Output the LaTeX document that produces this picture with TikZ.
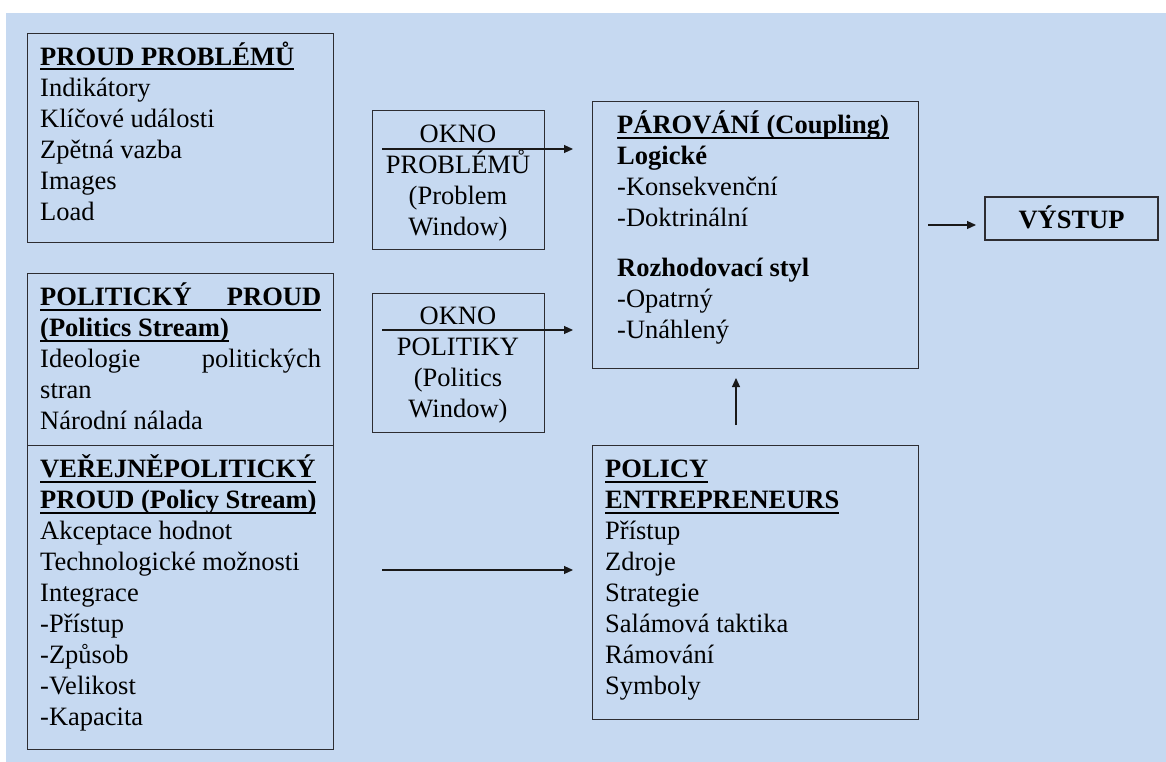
\documentclass[tikz,border=0pt]{standalone}
\usepackage{fontspec}
\setmainfont{Liberation Serif}
\usetikzlibrary{arrows.meta}
\definecolor{bgblue}{RGB}{198,217,241}
\definecolor{edgecol}{RGB}{45,45,50}
\newsavebox\ulbox
\newcommand\myul[1]{\sbox\ulbox{#1}\rlap{\rule[-5.3pt]{\wd\ulbox}{2pt}}\usebox\ulbox}
\newcommand\fl{\rule{0pt}{25pt}}
\begin{document}
\begin{tikzpicture}[x=1pt,y=-1pt,
  box/.style={draw=edgecol,line width=1.3pt,rectangle,inner sep=0pt,anchor=north west},
  txt/.style={inner sep=0pt,anchor=north west,align=left,font=\fontsize{26.5}{31}\selectfont},
  ctxt/.style={inner sep=0pt,anchor=north,align=center,font=\fontsize{26.5}{31}\selectfont},
  arr/.style={draw=black!90,line width=1.1pt,-{Triangle[length=9pt,width=8pt]}}]
\useasboundingbox (0,0) rectangle (1166,762);
\fill[bgblue] (6,13) rectangle (1166,762);

% boxes
\node[box,minimum width=306pt,minimum height=209pt] (b1) at (27,33) {};
\node[box,minimum width=306pt,minimum height=172pt] (pol) at (27,273) {};
\node[box,minimum width=306pt,minimum height=304pt] (pst) at (27,445) {};
\node[box,minimum width=172pt,minimum height=139pt] (ok1) at (372,110) {};
\node[box,minimum width=172pt,minimum height=139pt] (ok2) at (372,293) {};
\node[box,minimum width=326pt,minimum height=267pt] (par) at (592,101) {};
\node[box,minimum width=326pt,minimum height=274pt] (ent) at (592,445) {};
\node[box,anchor=center,minimum width=173pt,minimum height=43pt,text height=19pt,text depth=0pt,
      font=\fontsize{26.5}{31}\selectfont\bfseries] (out) at (1071.5,218.5) {VÝSTUP};

% texts
\node[txt] (t1) at (40,40) {\fl\myul{\textbf{PROUD PROBLÉMŮ}}\\Indikátory\\Klíčové události\\Zpětná vazba\\Images\\Load};
\node[txt] (t2) at (40,280) {\fl\myul{\textbf{\hbox to 281pt{POLITICKÝ\hfill PROUD}}}\\
  \myul{\textbf{(Politics Stream)}}\\
  \hbox to 281pt{Ideologie\hfill politických}\\stran\\Národní nálada};
\node[txt] (t3) at (40,452) {\fl\myul{\textbf{VEŘEJNĚPOLITICKÝ}}\\\myul{\textbf{PROUD (Policy Stream)}}\\
  Akceptace hodnot\\Technologické možnosti\\Integrace\\-Přístup\\-Způsob\\-Velikost\\-Kapacita};
\node[ctxt] (t4) at (458,117) {\fl OKNO\\PROBLÉMŮ\\(Problem\\Window)};
\node[ctxt] (t5) at (458,299) {\fl OKNO\\POLITIKY\\(Politics\\Window)};
\node[txt] (t6) at (617,108) {\fl\myul{\textbf{PÁROVÁNÍ (Coupling)}}\\\textbf{Logické}\\-Konsekvenční\\-Doktrinální\\[19pt]
  \textbf{Rozhodovací styl}\\-Opatrný\\-Unáhlený};
\node[txt] (t7) at (605,452) {\fl\myul{\textbf{POLICY}}\\\myul{\textbf{ENTREPRENEURS}}\\Přístup\\Zdroje\\Strategie\\Salámová taktika\\Rámování\\Symboly};

% connectors
\coordinate (a1s) at (382,149); \coordinate (a1e) at (573,149);
\coordinate (a2s) at (382,330); \coordinate (a2e) at (573,330);
\coordinate (a3s) at (382,570); \coordinate (a3e) at (573,570);
\coordinate (a4s) at (736,425); \coordinate (a4e) at (736,378);
\coordinate (a5s) at (928,225); \coordinate (a5e) at (976,225);
\draw[arr] (a1s) -- (a1e);
\draw[arr] (a2s) -- (a2e);
\draw[arr] (a3s) -- (a3e);
\draw[arr] (a4s) -- (a4e);
\draw[arr] (a5s) -- (a5e);
\end{tikzpicture}
\end{document}
